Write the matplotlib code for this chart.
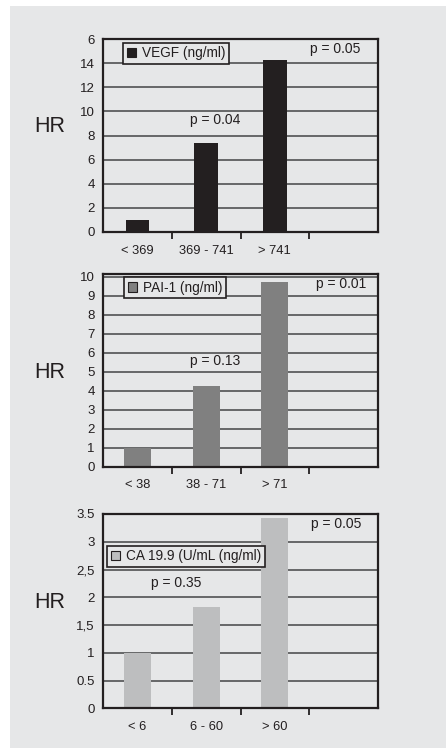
import matplotlib
matplotlib.use("Agg")
import matplotlib.pyplot as plt
from matplotlib.patches import Rectangle, Patch
import numpy as np

plt.rcParams['font.family'] = ['Liberation Sans', 'DejaVu Sans']

# Hazard ratios by marker tertile
vegf_groups = ["< 369", "369 - 741", "> 741"]
vegf_hr = [1.0, 7.4, 14.3]
vegf_ticks = [0, 2, 4, 6, 8, 10, 12, 14, 16]
vegf_ticklabels = ["0", "2", "4", "6", "8", "10", "12", "14", "6"]
vegf_pvals = ["p = 0.04", "p = 0.05"]

pai_groups = ["< 38", "38 - 71", "> 71"]
pai_hr = [1.0, 4.25, 9.75]
pai_ticks = [0, 1, 2, 3, 4, 5, 6, 7, 8, 9, 10]
pai_ticklabels = ["0", "1", "2", "3", "4", "5", "6", "7", "8", "9", "10"]
pai_pvals = ["p = 0.13", "p = 0.01"]

ca_groups = ["< 6", "6 - 60", "> 60"]
ca_hr = [1.0, 1.82, 3.43]
ca_ticks = [0, 0.5, 1, 1.5, 2, 2.5, 3, 3.5]
ca_ticklabels = ["0", "0.5", "1", "1,5", "2", "2,5", "3", "3.5"]
ca_pvals = ["p = 0.35", "p = 0.05"]

W, H = 446, 748
BG = "#e6e7e8"
DARK = "#231f20"

fig = plt.figure(figsize=(W / 100, H / 100), dpi=100)
fig.patch.set_facecolor("white")
fig.patches.append(Rectangle((10 / W, 0), 1 - 10 / W, (H - 6) / H,
                             transform=fig.transFigure, facecolor=BG,
                             edgecolor="none", zorder=-10))


def px_axes(x0, x1, ytop, ybot):
    return fig.add_axes([x0 / W, (H - ybot) / H, (x1 - x0) / W, (ybot - ytop) / H])


panels = [
    dict(box=(103, 378, 39, 232), groups=vegf_groups, hr=vegf_hr,
         ticks=vegf_ticks, ticklabels=vegf_ticklabels, ymax=16,
         color=DARK, width=0.34, label="VEGF (ng/ml)",
         leg=(0.072, 0.981), pvals=vegf_pvals,
         ppos=[(1.63, 9.27), (3.37, 15.2)], hr_y=127),
    dict(box=(103, 378, 274, 466.5), groups=pai_groups, hr=pai_hr,
         ticks=pai_ticks, ticklabels=pai_ticklabels, ymax=10.15,
         color="#808080", width=0.39, label="PAI-1 (ng/ml)",
         leg=(0.076, 0.986), pvals=pai_pvals,
         ppos=[(1.63, 5.55), (3.47, 9.6)], hr_y=373),
    dict(box=(103, 378, 514, 708.3), groups=ca_groups, hr=ca_hr,
         ticks=ca_ticks, ticklabels=ca_ticklabels, ymax=3.5,
         color="#bdbebf", width=0.39, label="CA 19.9 (U/mL (ng/ml)",
         leg=(0.0145, 0.837), pvals=ca_pvals,
         ppos=[(1.07, 2.26), (3.39, 3.32)], hr_y=603),
]

for p in panels:
    x0, x1, yt, yb = p["box"]
    ax = px_axes(x0, x1, yt, yb)
    ax.set_facecolor(BG)
    pos = np.arange(len(p["hr"])) + 0.5
    ax.bar(pos, p["hr"], width=p["width"], color=p["color"], zorder=3)
    ax.set_xlim(0, 4)
    ax.set_ylim(0, p["ymax"])

    # horizontal grid
    for t in p["ticks"][1:]:
        if t < p["ymax"]:
            ax.axhline(t, color="#505153", lw=1.2, zorder=1)

    ax.set_yticks(p["ticks"])
    ax.set_yticklabels(p["ticklabels"])
    ax.tick_params(axis="y", length=0, pad=6, labelsize=9.5, colors=DARK)

    ax.set_xticks([1, 2, 3])
    ax.set_xticklabels([])
    ax.tick_params(axis="x", which="major", direction="out", length=5,
                   width=1.3, color=DARK)
    ax.set_xticks(pos, minor=True)
    ax.set_xticklabels(p["groups"], minor=True)
    ax.tick_params(axis="x", which="minor", length=0, pad=9, labelsize=9.3,
                   labelcolor=DARK)

    for s in ax.spines.values():
        s.set_linewidth(1.6)
        s.set_color(DARK)
        s.set_zorder(5)

    handle = Patch(facecolor=p["color"], edgecolor=DARK, linewidth=0.8)
    leg = ax.legend([handle], [p["label"]], loc="upper left",
                    bbox_to_anchor=p["leg"], borderaxespad=0, fontsize=9.8,
                    handlelength=0.7, handleheight=0.7, handletextpad=0.4,
                    borderpad=0.28, fancybox=False, framealpha=1)
    leg.get_frame().set_edgecolor(DARK)
    leg.get_frame().set_facecolor(BG)
    leg.get_frame().set_linewidth(1.2)
    leg.set_zorder(6)
    for txt in leg.get_texts():
        txt.set_color(DARK)

    for s, (px, py) in zip(p["pvals"], p["ppos"]):
        ax.text(px, py, s, ha="center", va="center", fontsize=10, color=DARK,
                zorder=6)

    fig.text(50 / W, (H - p["hr_y"]) / H, "HR", ha="center", va="center",
             fontsize=15.5, color=DARK)

fig.savefig("out.png", dpi=100, facecolor=fig.get_facecolor())
